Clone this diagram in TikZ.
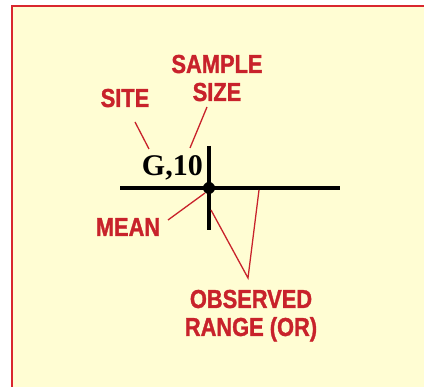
\documentclass[tikz,border=0pt]{standalone}
\usepackage{fontspec}
\newfontfamily\lblfont[FakeStretch=0.84, FakeBold=1.2]{Liberation Sans}
\newfontfamily\keyfont{Liberation Serif}
\definecolor{paper}{HTML}{FFFDD3}
\definecolor{labelred}{HTML}{C8222B}
\definecolor{framered}{HTML}{D9272E}

\begin{document}
\begin{tikzpicture}[x=1pt,y=-1pt]
            \tikzset{lbl/.style = {text=labelred, font=\lblfont\bfseries\fontsize{26}{28}\selectfont, inner sep=0pt, anchor=base, align=center}}
            \tikzset{leader/.style = {draw=labelred, line width=1.3pt}}
            \tikzset{axis/.style = {draw=black, line width=3.2pt}}
            \tikzset{dot/.style = {circle, fill=black, inner sep=0pt, minimum size=12pt}}
            \useasboundingbox (0,0) rectangle (424,387);
            \fill[paper] (12,6) rectangle (424,387);
            \draw[framered, line width=2.5pt] (12,387)--(12,6)--(424,6);
            
            % the plotted point
            \coordinate (xl) at (120,188);
            \coordinate (xr) at (340,188);
            \coordinate (yt) at (209,146);
            \coordinate (yb) at (209,230);
            \draw[axis] (xl)--(xr);
            \draw[axis] (yt)--(yb);
            \node[dot] (mu) at (209,188) {};
            \node[font=\keyfont\bfseries\fontsize{30}{30}\selectfont, inner sep=0pt, anchor=base east] (key) at (203,176) {G,10};
            
            % labels (base = last line)
            \node[lbl] (site) at (125,107) {SITE};
            \node[lbl] (size) at (217,101) {SAMPLE\\SIZE};
            \node[lbl] (mean) at (128,236) {MEAN};
            \node[lbl] (range) at (251,336) {OBSERVED\\RANGE (OR)};
            
            \coordinate (s1) at (135,122);
            \coordinate (s2) at (149,149);
            \coordinate (n1) at (207,107);
            \coordinate (n2) at (190,148);
            \coordinate (m1) at (168,220);
            \coordinate (m2) at (205,193);
            \coordinate (r1) at (211,210);
            \coordinate (r0) at (248,278);
            \coordinate (r2) at (259,190);
            \draw[leader] (s1)--(s2);
            \draw[leader] (n1)--(n2);
            \draw[leader] (m1)--(m2);
            \draw[leader] (r1)--(r0)--(r2);
            
\end{tikzpicture}
\end{document}
